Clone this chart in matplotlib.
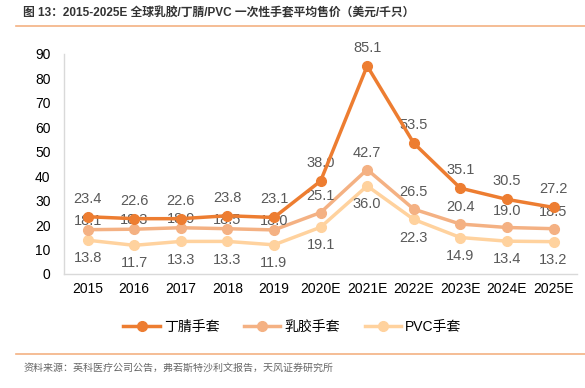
import matplotlib.pyplot as plt

plt.rcParams['font.family'] = ['Liberation Sans', 'Noto Sans CJK SC', 'DejaVu Sans']

years = ['2015', '2016', '2017', '2018', '2019', '2020E', '2021E',
         '2022E', '2023E', '2024E', '2025E']
nitrile = [23.4, 22.6, 22.6, 23.8, 23.1, 38.0, 85.1, 53.5, 35.1, 30.5, 27.2]
latex = [18.1, 18.3, 18.9, 18.5, 18.0, 25.1, 42.7, 26.5, 20.4, 19.0, 18.5]
pvc = [13.8, 11.7, 13.3, 13.3, 11.9, 19.1, 36.0, 22.3, 14.9, 13.4, 13.2]

c_nit = '#ED7D31'
c_lat = '#F4B183'
c_pvc = '#FFD29E'
txt = '#595959'

fig = plt.figure(figsize=(5.85, 3.88), dpi=100)
ax = fig.add_axes([0.110, 0.294, 0.876, 0.567])

x = range(len(years))
ax.plot(x, pvc, color=c_pvc, lw=2.5, marker='o', ms=7, label='PVC手套', zorder=2)
ax.plot(x, latex, color=c_lat, lw=2.5, marker='o', ms=7, label='乳胶手套', zorder=3)
ax.plot(x, nitrile, color=c_nit, lw=2.5, marker='o', ms=7, label='丁腈手套', zorder=4)

for i in x:
    ax.annotate(f'{nitrile[i]:.1f}', (i, nitrile[i]), xytext=(0, 8),
                textcoords='offset points', ha='center', va='bottom',
                fontsize=10.5, color=txt)
    ax.annotate(f'{latex[i]:.1f}', (i, latex[i]), xytext=(0, 1.5 if i < 5 else 7),
                textcoords='offset points', ha='center', va='bottom',
                fontsize=10.5, color=txt)
    ax.annotate(f'{pvc[i]:.1f}', (i, pvc[i]), xytext=(0, -8),
                textcoords='offset points', ha='center', va='top',
                fontsize=10.5, color=txt)

ax.set_xlim(-0.5, len(years) - 0.5)
ax.set_ylim(0, 90)
ax.set_yticks(range(0, 91, 10))
ax.set_xticks(list(x))
ax.set_xticklabels(years)
ax.tick_params(axis='both', length=0, labelsize=10, colors='#000000', pad=6)
ax.tick_params(axis='y', pad=10)
for s in ['top', 'right']:
    ax.spines[s].set_visible(False)
for s in ['left', 'bottom']:
    ax.spines[s].set_color('#D9D9D9')
    ax.spines[s].set_linewidth(1)

handles, labels = ax.get_legend_handles_labels()
order = [2, 1, 0]
fig.legend([handles[i] for i in order], [labels[i] for i in order],
           loc='center', bbox_to_anchor=(0.5, 0.157), ncol=3, frameon=False,
           fontsize=10, handlelength=2.6, columnspacing=1.8, handletextpad=0.3)

fig.text(0.04, 0.965, '图 13：2015-2025E 全球乳胶/丁腈/PVC 一次性手套平均售价（美元/千只）',
         fontsize=8.5, color='#333333', va='center', fontweight='bold')
fig.add_artist(plt.Line2D([0.027, 1.0], [0.932, 0.932], color='#F4B183', lw=1.2))
fig.add_artist(plt.Line2D([0.027, 1.0], [0.088, 0.088], color='#F4B183', lw=1.2))
fig.text(0.04, 0.052, '资料来源：英科医疗公司公告，弗若斯特沙利文报告，天风证券研究所',
         fontsize=7.2, color='#666666', va='center')

fig.savefig('out.png', dpi=100)
